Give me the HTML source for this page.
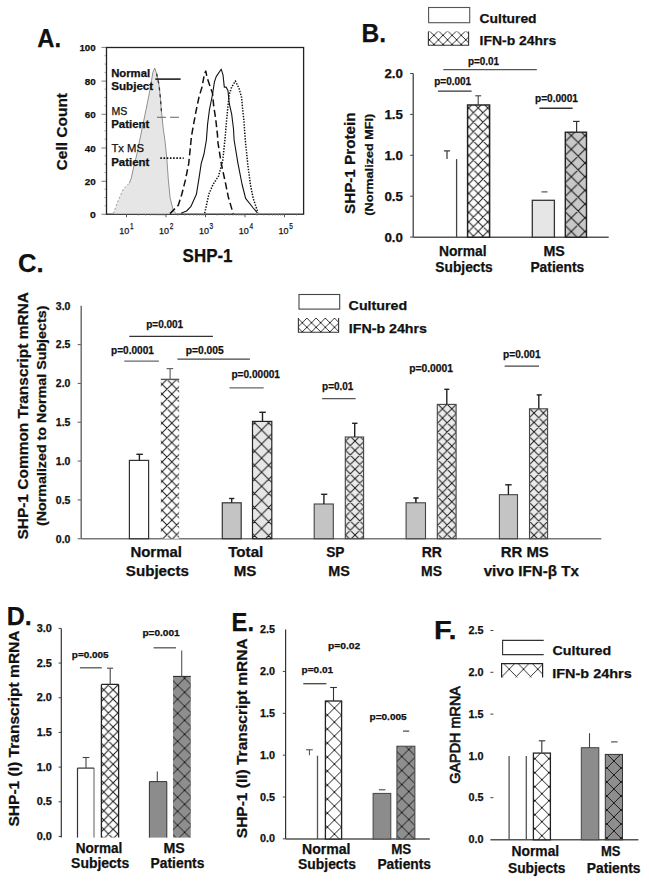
<!DOCTYPE html>
<html><head><meta charset="utf-8"><title>Figure</title>
<style>
html,body{margin:0;padding:0;background:#fff;}
svg{display:block;font-family:"Liberation Sans", sans-serif;}
</style></head><body>
<svg width="649" height="885" viewBox="0 0 649 885">
<defs>
<pattern id="h1" patternUnits="userSpaceOnUse" x="433.9" y="35.3" width="9.1" height="9.1"><rect width="9.1" height="9.1" fill="#fff"/><path d="M-18.2,-9.1L9.1,18.2M0,-9.1L-27.3,18.2M-9.1,-9.1L18.2,18.2M9.1,-9.1L-18.2,18.2M0,-9.1L27.3,18.2M18.2,-9.1L-9.1,18.2M9.1,-9.1L36.4,18.2M27.3,-9.1L0,18.2" stroke="#1a1a1a" stroke-width="0.9" fill="none"/></pattern>
<pattern id="h2" patternUnits="userSpaceOnUse" x="468.7" y="107.9" width="9.5" height="9.5"><rect width="9.5" height="9.5" fill="#fff"/><path d="M-19,-9.5L9.5,19M0,-9.5L-28.5,19M-9.5,-9.5L19,19M9.5,-9.5L-19,19M0,-9.5L28.5,19M19,-9.5L-9.5,19M9.5,-9.5L38,19M28.5,-9.5L0,19" stroke="#1a1a1a" stroke-width="1" fill="none"/></pattern>
<pattern id="h3" patternUnits="userSpaceOnUse" x="571.3" y="135.6" width="13.7" height="13.7"><rect width="13.7" height="13.7" fill="#c8c8c8"/><path d="M-27.4,-13.7L13.7,27.4M0,-13.7L-41.1,27.4M-13.7,-13.7L27.4,27.4M13.7,-13.7L-27.4,27.4M0,-13.7L41.1,27.4M27.4,-13.7L-13.7,27.4M13.7,-13.7L54.8,27.4M41.1,-13.7L0,27.4" stroke="#1a1a1a" stroke-width="1.1" fill="none"/></pattern>
<pattern id="h4" patternUnits="userSpaceOnUse" x="306.9" y="327.3" width="9.2" height="9.2"><rect width="9.2" height="9.2" fill="#fff"/><path d="M-18.4,-9.2L9.2,18.4M0,-9.2L-27.6,18.4M-9.2,-9.2L18.4,18.4M9.2,-9.2L-18.4,18.4M0,-9.2L27.6,18.4M18.4,-9.2L-9.2,18.4M9.2,-9.2L36.8,18.4M27.6,-9.2L0,18.4" stroke="#1a1a1a" stroke-width="0.9" fill="none"/></pattern>
<pattern id="h5" patternUnits="userSpaceOnUse" x="162.1" y="384.3" width="9.7" height="9.7"><rect width="9.7" height="9.7" fill="#fff"/><path d="M-19.4,-9.7L9.7,19.4M0,-9.7L-29.1,19.4M-9.7,-9.7L19.4,19.4M9.7,-9.7L-19.4,19.4M0,-9.7L29.1,19.4M19.4,-9.7L-9.7,19.4M9.7,-9.7L38.8,19.4M29.1,-9.7L0,19.4" stroke="#1a1a1a" stroke-width="1" fill="none"/></pattern>
<pattern id="h6" patternUnits="userSpaceOnUse" x="261.6" y="429.9" width="14.1" height="14.1"><rect width="14.1" height="14.1" fill="#e6e6e6"/><path d="M-28.2,-14.1L14.1,28.2M0,-14.1L-42.3,28.2M-14.1,-14.1L28.2,28.2M14.1,-14.1L-28.2,28.2M0,-14.1L42.3,28.2M28.2,-14.1L-14.1,28.2M14.1,-14.1L56.4,28.2M42.3,-14.1L0,28.2" stroke="#1a1a1a" stroke-width="1" fill="none"/></pattern>
<pattern id="h7" patternUnits="userSpaceOnUse" x="355" y="441" width="9.4" height="9.4"><rect width="9.4" height="9.4" fill="#ebebeb"/><path d="M-18.8,-9.4L9.4,18.8M0,-9.4L-28.2,18.8M-9.4,-9.4L18.8,18.8M9.4,-9.4L-18.8,18.8M0,-9.4L28.2,18.8M18.8,-9.4L-9.4,18.8M9.4,-9.4L37.6,18.8M28.2,-9.4L0,18.8" stroke="#1a1a1a" stroke-width="1" fill="none"/></pattern>
<pattern id="h8" patternUnits="userSpaceOnUse" x="442.5" y="408.8" width="9.3" height="9.3"><rect width="9.3" height="9.3" fill="#ebebeb"/><path d="M-18.6,-9.3L9.3,18.6M0,-9.3L-27.9,18.6M-9.3,-9.3L18.6,18.6M9.3,-9.3L-18.6,18.6M0,-9.3L27.9,18.6M18.6,-9.3L-9.3,18.6M9.3,-9.3L37.2,18.6M27.9,-9.3L0,18.6" stroke="#1a1a1a" stroke-width="1" fill="none"/></pattern>
<pattern id="h9" patternUnits="userSpaceOnUse" x="534" y="413" width="9.4" height="9.4"><rect width="9.4" height="9.4" fill="#ebebeb"/><path d="M-18.8,-9.4L9.4,18.8M0,-9.4L-28.2,18.8M-9.4,-9.4L18.8,18.8M9.4,-9.4L-18.8,18.8M0,-9.4L28.2,18.8M18.8,-9.4L-9.4,18.8M9.4,-9.4L37.6,18.8M28.2,-9.4L0,18.8" stroke="#1a1a1a" stroke-width="1" fill="none"/></pattern>
<pattern id="h10" patternUnits="userSpaceOnUse" x="103.8" y="689.8" width="9.3" height="9.3"><rect width="9.3" height="9.3" fill="#fff"/><path d="M-18.6,-9.3L9.3,18.6M0,-9.3L-27.9,18.6M-9.3,-9.3L18.6,18.6M9.3,-9.3L-18.6,18.6M0,-9.3L27.9,18.6M18.6,-9.3L-9.3,18.6M9.3,-9.3L37.2,18.6M27.9,-9.3L0,18.6" stroke="#1a1a1a" stroke-width="1" fill="none"/></pattern>
<pattern id="h11" patternUnits="userSpaceOnUse" x="177.6" y="685.3" width="14" height="14"><rect width="14" height="14" fill="#8e8e8e"/><path d="M-28,-14L14,28M0,-14L-42,28M-14,-14L28,28M14,-14L-28,28M0,-14L42,28M28,-14L-14,28M14,-14L56,28M42,-14L0,28" stroke="#1a1a1a" stroke-width="1" fill="none"/></pattern>
<pattern id="h12" patternUnits="userSpaceOnUse" x="334.4" y="708.1" width="14" height="14"><rect width="14" height="14" fill="#fff"/><path d="M-28,-14L14,28M0,-14L-42,28M-14,-14L28,28M14,-14L-28,28M0,-14L42,28M28,-14L-14,28M14,-14L56,28M42,-14L0,28" stroke="#1a1a1a" stroke-width="1" fill="none"/></pattern>
<pattern id="h13" patternUnits="userSpaceOnUse" x="401.8" y="770.5" width="14" height="14"><rect width="14" height="14" fill="#8e8e8e"/><path d="M-28,-14L14,28M0,-14L-42,28M-14,-14L28,28M14,-14L-28,28M0,-14L42,28M28,-14L-14,28M14,-14L56,28M42,-14L0,28" stroke="#1a1a1a" stroke-width="1" fill="none"/></pattern>
<pattern id="h14" patternUnits="userSpaceOnUse" x="509.2" y="669.2" width="14.3" height="14.7"><rect width="14.3" height="14.7" fill="#fff"/><path d="M-28.6,-14.7L14.3,29.4M0,-14.7L-42.9,29.4M-14.3,-14.7L28.6,29.4M14.3,-14.7L-28.6,29.4M0,-14.7L42.9,29.4M28.6,-14.7L-14.3,29.4M14.3,-14.7L57.2,29.4M42.9,-14.7L0,29.4" stroke="#1a1a1a" stroke-width="0.9" fill="none"/></pattern>
<pattern id="h15" patternUnits="userSpaceOnUse" x="541.9" y="765.7" width="14" height="14"><rect width="14" height="14" fill="#fff"/><path d="M-28,-14L14,28M0,-14L-42,28M-14,-14L28,28M14,-14L-28,28M0,-14L42,28M28,-14L-14,28M14,-14L56,28M42,-14L0,28" stroke="#1a1a1a" stroke-width="1" fill="none"/></pattern>
<pattern id="h16" patternUnits="userSpaceOnUse" x="613.9" y="761" width="14" height="14"><rect width="14" height="14" fill="#8e8e8e"/><path d="M-28,-14L14,28M0,-14L-42,28M-14,-14L28,28M14,-14L-28,28M0,-14L42,28M28,-14L-14,28M14,-14L56,28M42,-14L0,28" stroke="#1a1a1a" stroke-width="1" fill="none"/></pattern>
</defs>
<rect width="649" height="885" fill="#fff"/>
<text x="37.2" y="46.5" font-size="25" font-weight="bold" text-anchor="start" fill="#111" stroke="#111" stroke-width="0.25" textLength="23.8" lengthAdjust="spacingAndGlyphs">A.</text>
<text x="95.7" y="51.1" font-size="9.4" font-weight="bold" text-anchor="end" fill="#111" stroke="#111" stroke-width="0.25" textLength="16.3" lengthAdjust="spacingAndGlyphs">100</text>
<line x1="101.5" y1="47.4" x2="106.5" y2="47.4" stroke="#888" stroke-width="1.1"/>
<text x="95.7" y="84.8" font-size="9.4" font-weight="bold" text-anchor="end" fill="#111" stroke="#111" stroke-width="0.25" textLength="11" lengthAdjust="spacingAndGlyphs">80</text>
<line x1="101.5" y1="81.1" x2="106.5" y2="81.1" stroke="#888" stroke-width="1.1"/>
<text x="95.7" y="118" font-size="9.4" font-weight="bold" text-anchor="end" fill="#111" stroke="#111" stroke-width="0.25" textLength="11" lengthAdjust="spacingAndGlyphs">60</text>
<line x1="101.5" y1="114.3" x2="106.5" y2="114.3" stroke="#888" stroke-width="1.1"/>
<text x="95.7" y="151.7" font-size="9.4" font-weight="bold" text-anchor="end" fill="#111" stroke="#111" stroke-width="0.25" textLength="11" lengthAdjust="spacingAndGlyphs">40</text>
<line x1="101.5" y1="148" x2="106.5" y2="148" stroke="#888" stroke-width="1.1"/>
<text x="95.7" y="185" font-size="9.4" font-weight="bold" text-anchor="end" fill="#111" stroke="#111" stroke-width="0.25" textLength="11" lengthAdjust="spacingAndGlyphs">20</text>
<line x1="101.5" y1="181.3" x2="106.5" y2="181.3" stroke="#888" stroke-width="1.1"/>
<text x="95.7" y="218" font-size="9.4" font-weight="bold" text-anchor="end" fill="#111" stroke="#111" stroke-width="0.25" textLength="5.8" lengthAdjust="spacingAndGlyphs">0</text>
<line x1="101.5" y1="214.3" x2="106.5" y2="214.3" stroke="#888" stroke-width="1.1"/>
<line x1="104.4" y1="55.74" x2="106.5" y2="55.74" stroke="#999" stroke-width="0.8"/>
<line x1="104.4" y1="64.08" x2="106.5" y2="64.08" stroke="#999" stroke-width="0.8"/>
<line x1="104.4" y1="72.42" x2="106.5" y2="72.42" stroke="#999" stroke-width="0.8"/>
<line x1="104.4" y1="89.1" x2="106.5" y2="89.1" stroke="#999" stroke-width="0.8"/>
<line x1="104.4" y1="97.44" x2="106.5" y2="97.44" stroke="#999" stroke-width="0.8"/>
<line x1="104.4" y1="105.78" x2="106.5" y2="105.78" stroke="#999" stroke-width="0.8"/>
<line x1="104.4" y1="122.46" x2="106.5" y2="122.46" stroke="#999" stroke-width="0.8"/>
<line x1="104.4" y1="130.8" x2="106.5" y2="130.8" stroke="#999" stroke-width="0.8"/>
<line x1="104.4" y1="139.14" x2="106.5" y2="139.14" stroke="#999" stroke-width="0.8"/>
<line x1="104.4" y1="155.82" x2="106.5" y2="155.82" stroke="#999" stroke-width="0.8"/>
<line x1="104.4" y1="164.16" x2="106.5" y2="164.16" stroke="#999" stroke-width="0.8"/>
<line x1="104.4" y1="172.5" x2="106.5" y2="172.5" stroke="#999" stroke-width="0.8"/>
<line x1="104.4" y1="189.18" x2="106.5" y2="189.18" stroke="#999" stroke-width="0.8"/>
<line x1="104.4" y1="197.52" x2="106.5" y2="197.52" stroke="#999" stroke-width="0.8"/>
<line x1="104.4" y1="205.86" x2="106.5" y2="205.86" stroke="#999" stroke-width="0.8"/>
<text transform="translate(67.1,170.4) rotate(-90)" x="0" y="0" font-size="15.5" font-weight="bold" fill="#111" stroke="#111" stroke-width="0.25" textLength="77.4" lengthAdjust="spacingAndGlyphs">Cell Count</text>
<rect x="106.5" y="47.5" width="197.1" height="166.7" fill="none" stroke="#222" stroke-width="1.3"/>
<line x1="126.5" y1="214.2" x2="126.5" y2="217.2" stroke="#555" stroke-width="1"/>
<text x="119.3" y="233.9" font-size="9.8" font-weight="normal" text-anchor="start" fill="#111" stroke="#111" stroke-width="0.25" textLength="10" lengthAdjust="spacingAndGlyphs">10</text>
<text x="130" y="229.3" font-size="9" font-weight="normal" text-anchor="start" fill="#111" stroke="#111" stroke-width="0.25" textLength="3.6" lengthAdjust="spacingAndGlyphs">1</text>
<line x1="138.39" y1="214.2" x2="138.39" y2="215.8" stroke="#888" stroke-width="0.7"/>
<line x1="145.35" y1="214.2" x2="145.35" y2="215.8" stroke="#888" stroke-width="0.7"/>
<line x1="150.28" y1="214.2" x2="150.28" y2="215.8" stroke="#888" stroke-width="0.7"/>
<line x1="154.11" y1="214.2" x2="154.11" y2="215.8" stroke="#888" stroke-width="0.7"/>
<line x1="157.24" y1="214.2" x2="157.24" y2="215.8" stroke="#888" stroke-width="0.7"/>
<line x1="159.88" y1="214.2" x2="159.88" y2="215.8" stroke="#888" stroke-width="0.7"/>
<line x1="162.17" y1="214.2" x2="162.17" y2="215.8" stroke="#888" stroke-width="0.7"/>
<line x1="164.19" y1="214.2" x2="164.19" y2="215.8" stroke="#888" stroke-width="0.7"/>
<line x1="166" y1="214.2" x2="166" y2="217.2" stroke="#555" stroke-width="1"/>
<text x="159.1" y="233.9" font-size="9.8" font-weight="normal" text-anchor="start" fill="#111" stroke="#111" stroke-width="0.25" textLength="10" lengthAdjust="spacingAndGlyphs">10</text>
<text x="169.8" y="229.3" font-size="9" font-weight="normal" text-anchor="start" fill="#111" stroke="#111" stroke-width="0.25" textLength="3.6" lengthAdjust="spacingAndGlyphs">2</text>
<line x1="177.89" y1="214.2" x2="177.89" y2="215.8" stroke="#888" stroke-width="0.7"/>
<line x1="184.85" y1="214.2" x2="184.85" y2="215.8" stroke="#888" stroke-width="0.7"/>
<line x1="189.78" y1="214.2" x2="189.78" y2="215.8" stroke="#888" stroke-width="0.7"/>
<line x1="193.61" y1="214.2" x2="193.61" y2="215.8" stroke="#888" stroke-width="0.7"/>
<line x1="196.74" y1="214.2" x2="196.74" y2="215.8" stroke="#888" stroke-width="0.7"/>
<line x1="199.38" y1="214.2" x2="199.38" y2="215.8" stroke="#888" stroke-width="0.7"/>
<line x1="201.67" y1="214.2" x2="201.67" y2="215.8" stroke="#888" stroke-width="0.7"/>
<line x1="203.69" y1="214.2" x2="203.69" y2="215.8" stroke="#888" stroke-width="0.7"/>
<line x1="205.5" y1="214.2" x2="205.5" y2="217.2" stroke="#555" stroke-width="1"/>
<text x="198.9" y="233.9" font-size="9.8" font-weight="normal" text-anchor="start" fill="#111" stroke="#111" stroke-width="0.25" textLength="10" lengthAdjust="spacingAndGlyphs">10</text>
<text x="209.6" y="229.3" font-size="9" font-weight="normal" text-anchor="start" fill="#111" stroke="#111" stroke-width="0.25" textLength="3.6" lengthAdjust="spacingAndGlyphs">3</text>
<line x1="217.39" y1="214.2" x2="217.39" y2="215.8" stroke="#888" stroke-width="0.7"/>
<line x1="224.35" y1="214.2" x2="224.35" y2="215.8" stroke="#888" stroke-width="0.7"/>
<line x1="229.28" y1="214.2" x2="229.28" y2="215.8" stroke="#888" stroke-width="0.7"/>
<line x1="233.11" y1="214.2" x2="233.11" y2="215.8" stroke="#888" stroke-width="0.7"/>
<line x1="236.24" y1="214.2" x2="236.24" y2="215.8" stroke="#888" stroke-width="0.7"/>
<line x1="238.88" y1="214.2" x2="238.88" y2="215.8" stroke="#888" stroke-width="0.7"/>
<line x1="241.17" y1="214.2" x2="241.17" y2="215.8" stroke="#888" stroke-width="0.7"/>
<line x1="243.19" y1="214.2" x2="243.19" y2="215.8" stroke="#888" stroke-width="0.7"/>
<line x1="245" y1="214.2" x2="245" y2="217.2" stroke="#555" stroke-width="1"/>
<text x="238.7" y="233.9" font-size="9.8" font-weight="normal" text-anchor="start" fill="#111" stroke="#111" stroke-width="0.25" textLength="10" lengthAdjust="spacingAndGlyphs">10</text>
<text x="249.4" y="229.3" font-size="9" font-weight="normal" text-anchor="start" fill="#111" stroke="#111" stroke-width="0.25" textLength="3.6" lengthAdjust="spacingAndGlyphs">4</text>
<line x1="256.89" y1="214.2" x2="256.89" y2="215.8" stroke="#888" stroke-width="0.7"/>
<line x1="263.85" y1="214.2" x2="263.85" y2="215.8" stroke="#888" stroke-width="0.7"/>
<line x1="268.78" y1="214.2" x2="268.78" y2="215.8" stroke="#888" stroke-width="0.7"/>
<line x1="272.61" y1="214.2" x2="272.61" y2="215.8" stroke="#888" stroke-width="0.7"/>
<line x1="275.74" y1="214.2" x2="275.74" y2="215.8" stroke="#888" stroke-width="0.7"/>
<line x1="278.38" y1="214.2" x2="278.38" y2="215.8" stroke="#888" stroke-width="0.7"/>
<line x1="280.67" y1="214.2" x2="280.67" y2="215.8" stroke="#888" stroke-width="0.7"/>
<line x1="282.69" y1="214.2" x2="282.69" y2="215.8" stroke="#888" stroke-width="0.7"/>
<line x1="284.5" y1="214.2" x2="284.5" y2="217.2" stroke="#555" stroke-width="1"/>
<text x="278.5" y="233.9" font-size="9.8" font-weight="normal" text-anchor="start" fill="#111" stroke="#111" stroke-width="0.25" textLength="10" lengthAdjust="spacingAndGlyphs">10</text>
<text x="289.2" y="229.3" font-size="9" font-weight="normal" text-anchor="start" fill="#111" stroke="#111" stroke-width="0.25" textLength="3.6" lengthAdjust="spacingAndGlyphs">5</text>
<line x1="296.39" y1="214.2" x2="296.39" y2="215.8" stroke="#888" stroke-width="0.7"/>
<text x="182.6" y="261.5" font-size="17.6" font-weight="bold" text-anchor="start" fill="#111" stroke="#111" stroke-width="0.25" textLength="49.9" lengthAdjust="spacingAndGlyphs">SHP-1</text>
<path d="M113.4,213.5 L118.3,200.3 L123.3,189.2 L129.4,183 L131.3,178.1 L133.7,167 L136.8,154.7 L139.3,142.3 L141.8,130 L146.1,109.3 L149.8,90.8 L152.9,72.3 L154.7,68 L154.7,68 L156.6,73.6 L159,84.7 L160.3,97 L161.5,111.8 L163.3,129 L165.2,142.3 L167,160.8 L168.3,179.3 L170.1,197.8 L173.2,210.1 L175,212.6 L176,213.5 Z" fill="#e6e6e6" stroke="none"/>
<polyline points="129.4,183 131.3,178.1 133.7,167 136.8,154.7 139.3,142.3 141.8,130 146.1,109.3 149.8,90.8 152.9,72.3 154.7,68 154.7,68 156.6,73.6 159,84.7 160.3,97 161.5,111.8 163.3,129 165.2,142.3 167,160.8 168.3,179.3 170.1,197.8 173.2,210.1 175,212.6 176,213.5" fill="none" stroke="#777" stroke-width="0.8" stroke-linejoin="round"/>
<polyline points="113.4,213.5 118.3,200.3 123.3,189.2 129.4,183" fill="none" stroke="#999" stroke-width="1" stroke-dasharray="2,2" stroke-linejoin="round"/>
<polyline points="156.6,73.6 159,84.7 160.3,97 161.5,111.8" fill="none" stroke="#333" stroke-width="1.3" stroke-dasharray="3,4" stroke-linejoin="round"/>
<polyline points="170,213.6 178.3,205.3 181.8,194.3 185.3,180.4 188.7,163.7 191.5,136 193.4,125.4 195.9,111.8 199,97 202,87.1 204.5,73.6 205.8,71.1 207,77.3 209.5,84.7 212.5,93.3 213.8,106.9 215.6,118 217.5,135.2 217.8,141.5 221.3,163.7 225.5,183.2 228.3,197 232.4,211 233,213.6" fill="none" stroke="#111" stroke-width="1.5" stroke-dasharray="7,3.5" stroke-linejoin="round"/>
<polyline points="181,213.2 186.6,211 190.8,206.7 196.4,194.3 199.1,177.6 201.2,163.7 204,154 206.4,140 207.6,124.1 209.5,109.3 212.5,94.5 214.4,82.2 216.2,76.6 221.2,69.2 223,74.8 224.3,87.1 226.1,87.1 228,90.8 229.2,103.2 231.7,114.3 233.5,129 234.1,140 238,163.7 242.1,184.5 245.6,198.4 253.2,208 257.4,212.8" fill="none" stroke="#111" stroke-width="1.1" stroke-linejoin="round"/>
<polyline points="204.7,213.2 208.8,194.3 213,184.5 218.5,176.2 222.7,161 224.9,140 226.7,119.2 228,105.6 229.2,94.5 231.7,87.1 235.4,81 239,88.4 241.5,97 242.7,109.3 244,121.7 245.2,139 247.7,163.7 250.4,184.5 253.2,198.4 258,212.8" fill="none" stroke="#111" stroke-width="1.5" stroke-dasharray="1.4,1.4" stroke-linejoin="round"/>
<text x="111.2" y="77.3" font-size="10.2" font-weight="bold" text-anchor="start" fill="#111" stroke="#111" stroke-width="0.25" textLength="38.9" lengthAdjust="spacingAndGlyphs">Normal</text>
<text x="111.2" y="90.2" font-size="10.2" font-weight="bold" text-anchor="start" fill="#111" stroke="#111" stroke-width="0.25" textLength="42" lengthAdjust="spacingAndGlyphs">Subject</text>
<text x="111.6" y="115.4" font-size="10.6" font-weight="normal" text-anchor="start" fill="#111" stroke="#111" stroke-width="0.25" textLength="15.8" lengthAdjust="spacingAndGlyphs">MS</text>
<text x="111.2" y="128.4" font-size="10.2" font-weight="bold" text-anchor="start" fill="#111" stroke="#111" stroke-width="0.25" textLength="38.2" lengthAdjust="spacingAndGlyphs">Patient</text>
<text x="111.4" y="152.2" font-size="10.6" font-weight="normal" text-anchor="start" fill="#111" stroke="#111" stroke-width="0.25" textLength="32.6" lengthAdjust="spacingAndGlyphs">Tx MS</text>
<text x="111.2" y="165.5" font-size="10.2" font-weight="bold" text-anchor="start" fill="#111" stroke="#111" stroke-width="0.25" textLength="38.2" lengthAdjust="spacingAndGlyphs">Patient</text>
<line x1="155.3" y1="79.1" x2="180.6" y2="79.1" stroke="#111" stroke-width="1.5"/>
<line x1="157" y1="117.3" x2="179" y2="117.3" stroke="#666" stroke-width="1.1" stroke-dasharray="9,4"/>
<line x1="160.3" y1="158.1" x2="183.7" y2="158.1" stroke="#111" stroke-width="1.8" stroke-dasharray="1.6,1.6"/>
<text x="361.5" y="42" font-size="25" font-weight="bold" text-anchor="start" fill="#111" stroke="#111" stroke-width="0.25" textLength="24.6" lengthAdjust="spacingAndGlyphs">B.</text>
<rect x="428.6" y="7.5" width="41.1" height="15.2" fill="#fff" stroke="#555" stroke-width="1.1"/>
<rect x="428.4" y="31.4" width="40.2" height="13.9" fill="url(#h1)"/>
<path d="M428.4,31.4 V45.3 H468.6 V31.4" fill="none" stroke="#333" stroke-width="1.1"/>
<text x="479.6" y="22.8" font-size="13.5" font-weight="bold" text-anchor="start" fill="#111" stroke="#111" stroke-width="0.25" textLength="57" lengthAdjust="spacingAndGlyphs">Cultured</text>
<text x="479.6" y="44.7" font-size="13.5" font-weight="bold" text-anchor="start" fill="#111" stroke="#111" stroke-width="0.25" textLength="76.7" lengthAdjust="spacingAndGlyphs">IFN-b 24hrs</text>
<line x1="413.2" y1="73.5" x2="413.2" y2="237.2" stroke="#333" stroke-width="1.2"/>
<line x1="413.2" y1="237.2" x2="608.7" y2="237.2" stroke="#555" stroke-width="1.4"/>
<line x1="410.1" y1="73.5" x2="413.2" y2="73.5" stroke="#444" stroke-width="1"/>
<text x="402.9" y="78" font-size="12" font-weight="bold" text-anchor="end" fill="#111" stroke="#111" stroke-width="0.25" textLength="18.5" lengthAdjust="spacingAndGlyphs">2.0</text>
<line x1="410.1" y1="114.4" x2="413.2" y2="114.4" stroke="#444" stroke-width="1"/>
<text x="402.9" y="118.9" font-size="12" font-weight="bold" text-anchor="end" fill="#111" stroke="#111" stroke-width="0.25" textLength="18.5" lengthAdjust="spacingAndGlyphs">1.5</text>
<line x1="410.1" y1="155.3" x2="413.2" y2="155.3" stroke="#444" stroke-width="1"/>
<text x="402.9" y="159.8" font-size="12" font-weight="bold" text-anchor="end" fill="#111" stroke="#111" stroke-width="0.25" textLength="18.5" lengthAdjust="spacingAndGlyphs">1.0</text>
<line x1="410.1" y1="196.2" x2="413.2" y2="196.2" stroke="#444" stroke-width="1"/>
<text x="402.9" y="200.7" font-size="12" font-weight="bold" text-anchor="end" fill="#111" stroke="#111" stroke-width="0.25" textLength="18.5" lengthAdjust="spacingAndGlyphs">0.5</text>
<line x1="410.1" y1="237.1" x2="413.2" y2="237.1" stroke="#444" stroke-width="1"/>
<text x="402.9" y="241.6" font-size="12" font-weight="bold" text-anchor="end" fill="#111" stroke="#111" stroke-width="0.25" textLength="18.5" lengthAdjust="spacingAndGlyphs">0.0</text>
<text transform="translate(355.2,214) rotate(-90)" x="0" y="0" font-size="15.2" font-weight="bold" fill="#111" stroke="#111" stroke-width="0.25" textLength="101.5" lengthAdjust="spacingAndGlyphs">SHP-1 Protein</text>
<text transform="translate(373.3,215.7) rotate(-90)" x="0" y="0" font-size="11.2" font-weight="bold" fill="#111" stroke="#111" stroke-width="0.25" textLength="102" lengthAdjust="spacingAndGlyphs">(Normalized MFI)</text>
<line x1="456.6" y1="159.1" x2="456.6" y2="237.2" stroke="#444" stroke-width="1.3"/>
<line x1="443.9" y1="150.9" x2="450.1" y2="150.9" stroke="#333" stroke-width="1.2"/>
<line x1="447" y1="150.9" x2="447" y2="159.1" stroke="#333" stroke-width="1.2"/>
<rect x="467.6" y="105" width="22" height="132.2" fill="url(#h2)" stroke="#222" stroke-width="1.5"/>
<line x1="478.2" y1="95.8" x2="478.2" y2="105" stroke="#444" stroke-width="1.1"/>
<line x1="475.2" y1="95.8" x2="481.2" y2="95.8" stroke="#444" stroke-width="1.1"/>
<rect x="532.3" y="200.3" width="22.1" height="36.9" fill="#e6e6e6" stroke="#333" stroke-width="1.3"/>
<line x1="541.5" y1="191.9" x2="547.5" y2="191.9" stroke="#444" stroke-width="1.1"/>
<rect x="565.3" y="132.2" width="21.2" height="105" fill="url(#h3)" stroke="#222" stroke-width="1.4"/>
<line x1="576.6" y1="121.4" x2="576.6" y2="132.2" stroke="#333" stroke-width="1.2"/>
<line x1="573" y1="121.4" x2="579.7" y2="121.4" stroke="#333" stroke-width="1.2"/>
<text x="467.9" y="64.7" font-size="10.3" font-weight="bold" text-anchor="start" fill="#111" stroke="#111" stroke-width="0.25" textLength="31.1" lengthAdjust="spacingAndGlyphs">p=0.01</text>
<line x1="443.3" y1="69.6" x2="536.8" y2="69.6" stroke="#555" stroke-width="1.4"/>
<text x="434.2" y="84.5" font-size="10.3" font-weight="bold" text-anchor="start" fill="#111" stroke="#111" stroke-width="0.25" textLength="37" lengthAdjust="spacingAndGlyphs">p=0.001</text>
<line x1="437.9" y1="91.1" x2="471.6" y2="91.1" stroke="#333" stroke-width="1.4"/>
<text x="535" y="101.8" font-size="10.3" font-weight="bold" text-anchor="start" fill="#111" stroke="#111" stroke-width="0.25" textLength="43" lengthAdjust="spacingAndGlyphs">p=0.0001</text>
<line x1="539.4" y1="108.2" x2="572.6" y2="108.2" stroke="#333" stroke-width="1.4"/>
<text x="438.9" y="255.8" font-size="14.2" font-weight="bold" text-anchor="start" fill="#111" stroke="#111" stroke-width="0.25" textLength="47.7" lengthAdjust="spacingAndGlyphs">Normal</text>
<text x="435.3" y="271.6" font-size="14.2" font-weight="bold" text-anchor="start" fill="#111" stroke="#111" stroke-width="0.25" textLength="57.4" lengthAdjust="spacingAndGlyphs">Subjects</text>
<text x="543.4" y="255.8" font-size="14.2" font-weight="bold" text-anchor="start" fill="#111" stroke="#111" stroke-width="0.25" textLength="21.4" lengthAdjust="spacingAndGlyphs">MS</text>
<text x="530.4" y="271.6" font-size="14.2" font-weight="bold" text-anchor="start" fill="#111" stroke="#111" stroke-width="0.25" textLength="53.8" lengthAdjust="spacingAndGlyphs">Patients</text>
<text x="18" y="271.8" font-size="25" font-weight="bold" text-anchor="start" fill="#111" stroke="#111" stroke-width="0.25" textLength="25.6" lengthAdjust="spacingAndGlyphs">C.</text>
<text transform="translate(27.8,539.6) rotate(-90)" x="0" y="0" font-size="15.2" font-weight="bold" fill="#111" stroke="#111" stroke-width="0.25" textLength="247.6" lengthAdjust="spacingAndGlyphs">SHP-1 Common Transcript mRNA</text>
<text transform="translate(45.8,526) rotate(-90)" x="0" y="0" font-size="13" font-weight="bold" fill="#111" stroke="#111" stroke-width="0.25" textLength="220.4" lengthAdjust="spacingAndGlyphs">(Normalized to Normal Subjects)</text>
<line x1="81.2" y1="305.8" x2="81.2" y2="538.7" stroke="#666" stroke-width="1.4"/>
<line x1="81.2" y1="538.7" x2="601.3" y2="538.7" stroke="#777" stroke-width="1.6"/>
<text x="70.4" y="309.6" font-size="10.4" font-weight="bold" text-anchor="end" fill="#111" stroke="#111" stroke-width="0.25" textLength="14.6" lengthAdjust="spacingAndGlyphs">3.0</text>
<line x1="77.7" y1="344.62" x2="81.2" y2="344.62" stroke="#666" stroke-width="1.1"/>
<text x="70.4" y="348.42" font-size="10.4" font-weight="bold" text-anchor="end" fill="#111" stroke="#111" stroke-width="0.25" textLength="14.6" lengthAdjust="spacingAndGlyphs">2.5</text>
<line x1="77.7" y1="383.44" x2="81.2" y2="383.44" stroke="#666" stroke-width="1.1"/>
<text x="70.4" y="387.24" font-size="10.4" font-weight="bold" text-anchor="end" fill="#111" stroke="#111" stroke-width="0.25" textLength="14.6" lengthAdjust="spacingAndGlyphs">2.0</text>
<line x1="77.7" y1="422.26" x2="81.2" y2="422.26" stroke="#666" stroke-width="1.1"/>
<text x="70.4" y="426.06" font-size="10.4" font-weight="bold" text-anchor="end" fill="#111" stroke="#111" stroke-width="0.25" textLength="14.6" lengthAdjust="spacingAndGlyphs">1.5</text>
<line x1="77.7" y1="461.08" x2="81.2" y2="461.08" stroke="#666" stroke-width="1.1"/>
<text x="70.4" y="464.88" font-size="10.4" font-weight="bold" text-anchor="end" fill="#111" stroke="#111" stroke-width="0.25" textLength="14.6" lengthAdjust="spacingAndGlyphs">1.0</text>
<line x1="77.7" y1="499.9" x2="81.2" y2="499.9" stroke="#666" stroke-width="1.1"/>
<text x="70.4" y="503.7" font-size="10.4" font-weight="bold" text-anchor="end" fill="#111" stroke="#111" stroke-width="0.25" textLength="14.6" lengthAdjust="spacingAndGlyphs">0.5</text>
<line x1="77.7" y1="538.72" x2="81.2" y2="538.72" stroke="#666" stroke-width="1.1"/>
<text x="70.4" y="542.52" font-size="10.4" font-weight="bold" text-anchor="end" fill="#111" stroke="#111" stroke-width="0.25" textLength="14.6" lengthAdjust="spacingAndGlyphs">0.0</text>
<rect x="299" y="294.5" width="40.7" height="14.6" fill="#fff" stroke="#444" stroke-width="1.1"/>
<rect x="298.4" y="318.1" width="40.2" height="14.2" fill="url(#h4)"/>
<path d="M298.4,318.1 V332.3 H338.6 V318.1" fill="none" stroke="#333" stroke-width="1.1"/>
<text x="348.6" y="310.2" font-size="13.7" font-weight="bold" text-anchor="start" fill="#111" stroke="#111" stroke-width="0.25" textLength="58.6" lengthAdjust="spacingAndGlyphs">Cultured</text>
<text x="348.8" y="332.5" font-size="13.7" font-weight="bold" text-anchor="start" fill="#111" stroke="#111" stroke-width="0.25" textLength="78.2" lengthAdjust="spacingAndGlyphs">IFN-b 24hrs</text>
<rect x="129.4" y="460.4" width="19.2" height="78.3" fill="#fff" stroke="#333" stroke-width="1.2"/>
<line x1="139.4" y1="454.3" x2="139.4" y2="460.4" stroke="#222" stroke-width="1.4"/>
<line x1="136.4" y1="454.3" x2="142.9" y2="454.3" stroke="#222" stroke-width="1.4"/>
<rect x="160.8" y="379.4" width="18.4" height="159.3" fill="url(#h5)" stroke="none" stroke-width="0"/>
<line x1="160.8" y1="379.4" x2="179.2" y2="379.4" stroke="#555" stroke-width="1.4"/>
<line x1="170.1" y1="368.6" x2="170.1" y2="379.4" stroke="#666" stroke-width="1.2"/>
<line x1="166.6" y1="368.6" x2="173.2" y2="368.6" stroke="#666" stroke-width="1.2"/>
<rect x="222.3" y="502.8" width="18.9" height="35.9" fill="#c4c4c4" stroke="#333" stroke-width="1.2"/>
<line x1="231.7" y1="498.5" x2="231.7" y2="502.8" stroke="#222" stroke-width="1.4"/>
<line x1="229.1" y1="498.5" x2="234.3" y2="498.5" stroke="#222" stroke-width="1.4"/>
<rect x="252.5" y="421.4" width="19.3" height="117.3" fill="url(#h6)" stroke="#222" stroke-width="1.2"/>
<line x1="262.5" y1="412.3" x2="262.5" y2="421.4" stroke="#222" stroke-width="1.4"/>
<line x1="259.3" y1="412.3" x2="265.8" y2="412.3" stroke="#222" stroke-width="1.4"/>
<rect x="314.2" y="504" width="19.1" height="34.7" fill="#c4c4c4" stroke="#444" stroke-width="1.1"/>
<line x1="323.9" y1="494.3" x2="323.9" y2="504" stroke="#222" stroke-width="1.4"/>
<line x1="321.1" y1="494.3" x2="327.3" y2="494.3" stroke="#222" stroke-width="1.4"/>
<rect x="345.3" y="437" width="18.3" height="101.7" fill="url(#h7)" stroke="#444" stroke-width="1.1"/>
<line x1="354.7" y1="423.3" x2="354.7" y2="437" stroke="#222" stroke-width="1.4"/>
<line x1="352.1" y1="423.3" x2="357.5" y2="423.3" stroke="#222" stroke-width="1.4"/>
<rect x="406.1" y="502.8" width="19.4" height="35.9" fill="#c4c4c4" stroke="#444" stroke-width="1.1"/>
<line x1="415.9" y1="498" x2="415.9" y2="502.8" stroke="#222" stroke-width="1.6"/>
<line x1="413.4" y1="498" x2="418.6" y2="498" stroke="#222" stroke-width="1.6"/>
<rect x="437.3" y="404.4" width="18.8" height="134.3" fill="url(#h8)" stroke="#444" stroke-width="1.1"/>
<line x1="446.8" y1="389.3" x2="446.8" y2="404.4" stroke="#222" stroke-width="1.4"/>
<line x1="444.3" y1="389.3" x2="449.3" y2="389.3" stroke="#222" stroke-width="1.4"/>
<rect x="499.4" y="494.7" width="18.1" height="44" fill="#c4c4c4" stroke="#444" stroke-width="1.1"/>
<line x1="508.4" y1="484.8" x2="508.4" y2="494.7" stroke="#222" stroke-width="1.4"/>
<line x1="505.2" y1="484.8" x2="511.7" y2="484.8" stroke="#222" stroke-width="1.4"/>
<rect x="529.5" y="408.8" width="18.1" height="129.9" fill="url(#h9)" stroke="#444" stroke-width="1.1"/>
<line x1="538.8" y1="394.9" x2="538.8" y2="408.8" stroke="#222" stroke-width="1.4"/>
<line x1="536.7" y1="394.9" x2="541.8" y2="394.9" stroke="#222" stroke-width="1.4"/>
<text x="146.2" y="328.2" font-size="10.3" font-weight="bold" text-anchor="start" fill="#111" stroke="#111" stroke-width="0.25" textLength="37" lengthAdjust="spacingAndGlyphs">p=0.001</text>
<line x1="129.3" y1="336.3" x2="212.9" y2="336.3" stroke="#333" stroke-width="1.3"/>
<text x="111.1" y="354.2" font-size="10.3" font-weight="bold" text-anchor="start" fill="#111" stroke="#111" stroke-width="0.25" textLength="42.8" lengthAdjust="spacingAndGlyphs">p=0.0001</text>
<line x1="124.3" y1="361.2" x2="158.9" y2="361.2" stroke="#666" stroke-width="1.3"/>
<text x="185.7" y="354" font-size="10.3" font-weight="bold" text-anchor="start" fill="#111" stroke="#111" stroke-width="0.25" textLength="37.9" lengthAdjust="spacingAndGlyphs">p=0.005</text>
<line x1="177.4" y1="359.1" x2="249.9" y2="359.1" stroke="#444" stroke-width="1.3"/>
<text x="231.4" y="378.4" font-size="10.3" font-weight="bold" text-anchor="start" fill="#111" stroke="#111" stroke-width="0.25" textLength="48.6" lengthAdjust="spacingAndGlyphs">p=0.00001</text>
<line x1="229.5" y1="387.9" x2="263.7" y2="387.9" stroke="#666" stroke-width="1.3"/>
<text x="322.1" y="390.3" font-size="10.3" font-weight="bold" text-anchor="start" fill="#111" stroke="#111" stroke-width="0.25" textLength="31.3" lengthAdjust="spacingAndGlyphs">p=0.01</text>
<line x1="322.1" y1="398.6" x2="355.6" y2="398.6" stroke="#555" stroke-width="1.3"/>
<text x="409.2" y="372.1" font-size="10.3" font-weight="bold" text-anchor="start" fill="#111" stroke="#111" stroke-width="0.25" textLength="43.9" lengthAdjust="spacingAndGlyphs">p=0.0001</text>
<text x="503.1" y="358.1" font-size="10.3" font-weight="bold" text-anchor="start" fill="#111" stroke="#111" stroke-width="0.25" textLength="37.5" lengthAdjust="spacingAndGlyphs">p=0.001</text>
<line x1="504.7" y1="366.2" x2="539" y2="366.2" stroke="#444" stroke-width="1.3"/>
<text x="130.4" y="557" font-size="13.8" font-weight="bold" text-anchor="start" fill="#111" stroke="#111" stroke-width="0.25" textLength="51.5" lengthAdjust="spacingAndGlyphs">Normal</text>
<text x="125.8" y="575.5" font-size="13.8" font-weight="bold" text-anchor="start" fill="#111" stroke="#111" stroke-width="0.25" textLength="63.1" lengthAdjust="spacingAndGlyphs">Subjects</text>
<text x="228.2" y="557" font-size="13.8" font-weight="bold" text-anchor="start" fill="#111" stroke="#111" stroke-width="0.25" textLength="35.1" lengthAdjust="spacingAndGlyphs">Total</text>
<text x="233.7" y="575.5" font-size="13.8" font-weight="bold" text-anchor="start" fill="#111" stroke="#111" stroke-width="0.25" textLength="22.7" lengthAdjust="spacingAndGlyphs">MS</text>
<text x="326.2" y="557" font-size="13.8" font-weight="bold" text-anchor="start" fill="#111" stroke="#111" stroke-width="0.25" textLength="18.3" lengthAdjust="spacingAndGlyphs">SP</text>
<text x="328.3" y="575.5" font-size="13.8" font-weight="bold" text-anchor="start" fill="#111" stroke="#111" stroke-width="0.25" textLength="21.6" lengthAdjust="spacingAndGlyphs">MS</text>
<text x="421.7" y="557" font-size="13.8" font-weight="bold" text-anchor="start" fill="#111" stroke="#111" stroke-width="0.25" textLength="20.3" lengthAdjust="spacingAndGlyphs">RR</text>
<text x="421.1" y="575.5" font-size="13.8" font-weight="bold" text-anchor="start" fill="#111" stroke="#111" stroke-width="0.25" textLength="20.9" lengthAdjust="spacingAndGlyphs">MS</text>
<text x="500.7" y="557" font-size="13.8" font-weight="bold" text-anchor="start" fill="#111" stroke="#111" stroke-width="0.25" textLength="48.1" lengthAdjust="spacingAndGlyphs">RR MS</text>
<text x="483.7" y="575.5" font-size="13.8" font-weight="bold" text-anchor="start" fill="#111" stroke="#111" stroke-width="0.25" textLength="95.2" lengthAdjust="spacingAndGlyphs">vivo IFN-&#946; Tx</text>
<text x="6.8" y="624.6" font-size="25.8" font-weight="bold" text-anchor="start" fill="#111" stroke="#111" stroke-width="0.25" textLength="25" lengthAdjust="spacingAndGlyphs">D.</text>
<text transform="translate(19,826.6) rotate(-90)" x="0" y="0" font-size="15.3" font-weight="bold" fill="#111" stroke="#111" stroke-width="0.25" textLength="196.2" lengthAdjust="spacingAndGlyphs">SHP-1 (I) Transcript mRNA</text>
<line x1="61.3" y1="628.4" x2="61.3" y2="837.6" stroke="#333" stroke-width="1.2"/>
<line x1="58.6" y1="628.4" x2="61.3" y2="628.4" stroke="#444" stroke-width="1"/>
<text x="51.9" y="632" font-size="10.4" font-weight="bold" text-anchor="end" fill="#111" stroke="#111" stroke-width="0.25" textLength="15.2" lengthAdjust="spacingAndGlyphs">3.0</text>
<line x1="58.6" y1="663.07" x2="61.3" y2="663.07" stroke="#444" stroke-width="1"/>
<text x="51.9" y="666.67" font-size="10.4" font-weight="bold" text-anchor="end" fill="#111" stroke="#111" stroke-width="0.25" textLength="15.2" lengthAdjust="spacingAndGlyphs">2.5</text>
<line x1="58.6" y1="697.74" x2="61.3" y2="697.74" stroke="#444" stroke-width="1"/>
<text x="51.9" y="701.34" font-size="10.4" font-weight="bold" text-anchor="end" fill="#111" stroke="#111" stroke-width="0.25" textLength="15.2" lengthAdjust="spacingAndGlyphs">2.0</text>
<line x1="58.6" y1="732.41" x2="61.3" y2="732.41" stroke="#444" stroke-width="1"/>
<text x="51.9" y="736.01" font-size="10.4" font-weight="bold" text-anchor="end" fill="#111" stroke="#111" stroke-width="0.25" textLength="15.2" lengthAdjust="spacingAndGlyphs">1.5</text>
<line x1="58.6" y1="767.08" x2="61.3" y2="767.08" stroke="#444" stroke-width="1"/>
<text x="51.9" y="770.68" font-size="10.4" font-weight="bold" text-anchor="end" fill="#111" stroke="#111" stroke-width="0.25" textLength="15.2" lengthAdjust="spacingAndGlyphs">1.0</text>
<line x1="58.6" y1="801.75" x2="61.3" y2="801.75" stroke="#444" stroke-width="1"/>
<text x="51.9" y="805.35" font-size="10.4" font-weight="bold" text-anchor="end" fill="#111" stroke="#111" stroke-width="0.25" textLength="15.2" lengthAdjust="spacingAndGlyphs">0.5</text>
<line x1="58.6" y1="836.42" x2="61.3" y2="836.42" stroke="#444" stroke-width="1"/>
<text x="51.9" y="840.02" font-size="10.4" font-weight="bold" text-anchor="end" fill="#111" stroke="#111" stroke-width="0.25" textLength="15.2" lengthAdjust="spacingAndGlyphs">0.0</text>
<line x1="77.5" y1="768.1" x2="77.5" y2="837.6" stroke="#333" stroke-width="1.2"/>
<line x1="94" y1="768.1" x2="94" y2="837.6" stroke="#777" stroke-width="1.2"/>
<line x1="77.5" y1="768.1" x2="94" y2="768.1" stroke="#333" stroke-width="1.2"/>
<line x1="86" y1="757.5" x2="86" y2="768.1" stroke="#444" stroke-width="1.1"/>
<line x1="82.6" y1="757.5" x2="89.4" y2="757.5" stroke="#444" stroke-width="1.1"/>
<rect x="101.4" y="684.4" width="17.2" height="153.2" fill="url(#h10)"/>
<path d="M101.4,837.6 V684.4 M101.4,684.4 H118.6 M118.6,684.4 V837.6 " fill="none" stroke="#222" stroke-width="1.3"/>
<line x1="110.2" y1="668.2" x2="110.2" y2="684.4" stroke="#444" stroke-width="1.1"/>
<line x1="107" y1="668.2" x2="113.1" y2="668.2" stroke="#444" stroke-width="1.1"/>
<rect x="149.4" y="781.6" width="17.4" height="56" fill="#8c8c8c"/>
<path d="M149.4,837.6 V781.6 M149.4,781.6 H166.8 M166.8,781.6 V837.6 " fill="none" stroke="#333" stroke-width="1"/>
<line x1="157.3" y1="771.6" x2="157.3" y2="781.6" stroke="#444" stroke-width="1.1"/>
<rect x="173" y="676.4" width="17.8" height="161.2" fill="url(#h11)"/>
<path d="M173,676.4 H190.8 " fill="none" stroke="#222" stroke-width="1"/>
<line x1="181.7" y1="650.6" x2="181.7" y2="676.4" stroke="#555" stroke-width="1.1"/>
<text x="71.8" y="657.9" font-size="9" font-weight="bold" text-anchor="start" fill="#111" stroke="#111" stroke-width="0.25" textLength="36.8" lengthAdjust="spacingAndGlyphs">p=0.005</text>
<line x1="79.9" y1="667.8" x2="101.8" y2="667.8" stroke="#555" stroke-width="1.3"/>
<text x="142.4" y="636" font-size="9.2" font-weight="bold" text-anchor="start" fill="#111" stroke="#111" stroke-width="0.25" textLength="37.3" lengthAdjust="spacingAndGlyphs">p=0.001</text>
<line x1="153.6" y1="647.8" x2="176" y2="647.8" stroke="#555" stroke-width="1.3"/>
<text x="75.7" y="853.1" font-size="13.8" font-weight="bold" text-anchor="start" fill="#111" stroke="#111" stroke-width="0.25" textLength="46.7" lengthAdjust="spacingAndGlyphs">Normal</text>
<text x="71.1" y="868.1" font-size="13.8" font-weight="bold" text-anchor="start" fill="#111" stroke="#111" stroke-width="0.25" textLength="58.2" lengthAdjust="spacingAndGlyphs">Subjects</text>
<text x="163.5" y="853.1" font-size="13.8" font-weight="bold" text-anchor="start" fill="#111" stroke="#111" stroke-width="0.25" textLength="21.3" lengthAdjust="spacingAndGlyphs">MS</text>
<text x="150.6" y="868.1" font-size="13.8" font-weight="bold" text-anchor="start" fill="#111" stroke="#111" stroke-width="0.25" textLength="53.8" lengthAdjust="spacingAndGlyphs">Patients</text>
<text x="231.6" y="630.8" font-size="25" font-weight="bold" text-anchor="start" fill="#111" stroke="#111" stroke-width="0.25" textLength="22.4" lengthAdjust="spacingAndGlyphs">E.</text>
<text transform="translate(247,838.2) rotate(-90)" x="0" y="0" font-size="15.3" font-weight="bold" fill="#111" stroke="#111" stroke-width="0.25" textLength="199.8" lengthAdjust="spacingAndGlyphs">SHP-1 (II) Transcript mRNA</text>
<line x1="285.6" y1="629.6" x2="285.6" y2="839" stroke="#333" stroke-width="1.2"/>
<line x1="285.6" y1="839" x2="429.8" y2="839" stroke="#555" stroke-width="1.4"/>
<text x="275.1" y="633.2" font-size="10.4" font-weight="bold" text-anchor="end" fill="#111" stroke="#111" stroke-width="0.25" textLength="15" lengthAdjust="spacingAndGlyphs">2.5</text>
<line x1="282.8" y1="671.45" x2="285.6" y2="671.45" stroke="#444" stroke-width="1"/>
<text x="275.1" y="675.05" font-size="10.4" font-weight="bold" text-anchor="end" fill="#111" stroke="#111" stroke-width="0.25" textLength="15" lengthAdjust="spacingAndGlyphs">2.0</text>
<line x1="282.8" y1="713.3" x2="285.6" y2="713.3" stroke="#444" stroke-width="1"/>
<text x="275.1" y="716.9" font-size="10.4" font-weight="bold" text-anchor="end" fill="#111" stroke="#111" stroke-width="0.25" textLength="15" lengthAdjust="spacingAndGlyphs">1.5</text>
<line x1="282.8" y1="755.15" x2="285.6" y2="755.15" stroke="#444" stroke-width="1"/>
<text x="275.1" y="758.75" font-size="10.4" font-weight="bold" text-anchor="end" fill="#111" stroke="#111" stroke-width="0.25" textLength="15" lengthAdjust="spacingAndGlyphs">1.0</text>
<line x1="282.8" y1="797" x2="285.6" y2="797" stroke="#444" stroke-width="1"/>
<text x="275.1" y="800.6" font-size="10.4" font-weight="bold" text-anchor="end" fill="#111" stroke="#111" stroke-width="0.25" textLength="15" lengthAdjust="spacingAndGlyphs">0.5</text>
<line x1="282.8" y1="838.85" x2="285.6" y2="838.85" stroke="#444" stroke-width="1"/>
<text x="275.1" y="842.45" font-size="10.4" font-weight="bold" text-anchor="end" fill="#111" stroke="#111" stroke-width="0.25" textLength="15" lengthAdjust="spacingAndGlyphs">0.0</text>
<line x1="317.5" y1="755.7" x2="317.5" y2="839" stroke="#555" stroke-width="1.3"/>
<line x1="306" y1="749.8" x2="312.8" y2="749.8" stroke="#333" stroke-width="0.9"/>
<line x1="309.4" y1="749.8" x2="309.4" y2="755.2" stroke="#333" stroke-width="0.9"/>
<rect x="325.4" y="701" width="16.2" height="138" fill="url(#h12)" stroke="#222" stroke-width="1.3"/>
<line x1="333.5" y1="687.5" x2="333.5" y2="701" stroke="#333" stroke-width="1.1"/>
<line x1="330.2" y1="687.5" x2="336.9" y2="687.5" stroke="#333" stroke-width="1.1"/>
<rect x="373.1" y="793.4" width="17.7" height="45.6" fill="#8c8c8c" stroke="#444" stroke-width="1"/>
<line x1="378.9" y1="789.8" x2="385.4" y2="789.8" stroke="#444" stroke-width="1.1"/>
<rect x="396.9" y="746.2" width="18" height="92.8" fill="url(#h13)" stroke="#444" stroke-width="1"/>
<line x1="403" y1="731.1" x2="409.2" y2="731.1" stroke="#333" stroke-width="1.1"/>
<text x="301.6" y="673.3" font-size="9.9" font-weight="bold" text-anchor="start" fill="#111" stroke="#111" stroke-width="0.25" textLength="31.6" lengthAdjust="spacingAndGlyphs">p=0.01</text>
<line x1="303.3" y1="683.7" x2="326.4" y2="683.7" stroke="#444" stroke-width="1.3"/>
<text x="327.9" y="648.9" font-size="9.9" font-weight="bold" text-anchor="start" fill="#111" stroke="#111" stroke-width="0.25" textLength="32.3" lengthAdjust="spacingAndGlyphs">p=0.02</text>
<text x="369.5" y="719.6" font-size="9.2" font-weight="bold" text-anchor="start" fill="#111" stroke="#111" stroke-width="0.25" textLength="37.2" lengthAdjust="spacingAndGlyphs">p=0.005</text>
<text x="302" y="853.5" font-size="13.8" font-weight="bold" text-anchor="start" fill="#111" stroke="#111" stroke-width="0.25" textLength="48.5" lengthAdjust="spacingAndGlyphs">Normal</text>
<text x="298.1" y="869.2" font-size="13.8" font-weight="bold" text-anchor="start" fill="#111" stroke="#111" stroke-width="0.25" textLength="57.8" lengthAdjust="spacingAndGlyphs">Subjects</text>
<text x="391.2" y="853.5" font-size="13.8" font-weight="bold" text-anchor="start" fill="#111" stroke="#111" stroke-width="0.25" textLength="20.1" lengthAdjust="spacingAndGlyphs">MS</text>
<text x="377.4" y="869.2" font-size="13.8" font-weight="bold" text-anchor="start" fill="#111" stroke="#111" stroke-width="0.25" textLength="53.6" lengthAdjust="spacingAndGlyphs">Patients</text>
<text x="434" y="639.4" font-size="25.5" font-weight="bold" text-anchor="start" fill="#111" stroke="#111" stroke-width="0.25" textLength="22.6" lengthAdjust="spacingAndGlyphs">F.</text>
<text transform="translate(460.2,783.7) rotate(-90)" x="0" y="0" font-size="14.8" font-weight="normal" fill="#111" stroke="#111" stroke-width="0.7" textLength="97.6" lengthAdjust="spacingAndGlyphs">GAPDH mRNA</text>
<line x1="490.4" y1="630.5" x2="493.4" y2="630.5" stroke="#444" stroke-width="1"/>
<text x="483.6" y="634.1" font-size="10.4" font-weight="bold" text-anchor="end" fill="#111" stroke="#111" stroke-width="0.25" textLength="15" lengthAdjust="spacingAndGlyphs">2.5</text>
<line x1="490.4" y1="672.3" x2="493.4" y2="672.3" stroke="#444" stroke-width="1"/>
<text x="483.6" y="675.9" font-size="10.4" font-weight="bold" text-anchor="end" fill="#111" stroke="#111" stroke-width="0.25" textLength="15" lengthAdjust="spacingAndGlyphs">2.0</text>
<line x1="490.4" y1="714.1" x2="493.4" y2="714.1" stroke="#444" stroke-width="1"/>
<text x="483.6" y="717.7" font-size="10.4" font-weight="bold" text-anchor="end" fill="#111" stroke="#111" stroke-width="0.25" textLength="15" lengthAdjust="spacingAndGlyphs">1.5</text>
<text x="483.6" y="759.5" font-size="10.4" font-weight="bold" text-anchor="end" fill="#111" stroke="#111" stroke-width="0.25" textLength="15" lengthAdjust="spacingAndGlyphs">1.0</text>
<line x1="490.4" y1="797.7" x2="493.4" y2="797.7" stroke="#444" stroke-width="1"/>
<text x="483.6" y="801.3" font-size="10.4" font-weight="bold" text-anchor="end" fill="#111" stroke="#111" stroke-width="0.25" textLength="15" lengthAdjust="spacingAndGlyphs">0.5</text>
<text x="483.6" y="843.1" font-size="10.4" font-weight="bold" text-anchor="end" fill="#111" stroke="#111" stroke-width="0.25" textLength="15" lengthAdjust="spacingAndGlyphs">0.0</text>
<line x1="490.4" y1="839.8" x2="638.4" y2="839.8" stroke="#555" stroke-width="1.4"/>
<path d="M543.7,640.4 H502.6 V654.6 H543.7" fill="none" stroke="#333" stroke-width="1.1"/>
<rect x="501.6" y="663.6" width="41" height="13.8" fill="url(#h14)"/>
<path d="M501.6,677.4 V663.6 H542.6 V677.4" fill="none" stroke="#222" stroke-width="1.2"/>
<text x="552.5" y="655.4" font-size="13.7" font-weight="bold" text-anchor="start" fill="#111" stroke="#111" stroke-width="0.25" textLength="58.6" lengthAdjust="spacingAndGlyphs">Cultured</text>
<text x="552.3" y="678.1" font-size="13.7" font-weight="bold" text-anchor="start" fill="#111" stroke="#111" stroke-width="0.25" textLength="79.4" lengthAdjust="spacingAndGlyphs">IFN-b 24hrs</text>
<line x1="509.1" y1="755.9" x2="509.1" y2="839.8" stroke="#555" stroke-width="1.3"/>
<line x1="526.3" y1="755.9" x2="526.3" y2="839.8" stroke="#555" stroke-width="1.3"/>
<rect x="533.4" y="753.1" width="17" height="86.7" fill="url(#h15)" stroke="#222" stroke-width="1.3"/>
<line x1="541.8" y1="740.8" x2="541.8" y2="753.1" stroke="#444" stroke-width="1.2"/>
<line x1="538.8" y1="740.8" x2="545.3" y2="740.8" stroke="#444" stroke-width="1.2"/>
<rect x="581.3" y="747.7" width="17.5" height="92.1" fill="#8c8c8c" stroke="#444" stroke-width="1"/>
<line x1="589.5" y1="733.2" x2="589.5" y2="747.7" stroke="#444" stroke-width="1.1"/>
<rect x="605.3" y="754.4" width="17.2" height="85.4" fill="url(#h16)" stroke="#333" stroke-width="1"/>
<line x1="611.1" y1="741.9" x2="617.6" y2="741.9" stroke="#444" stroke-width="1.1"/>
<text x="511.5" y="856.3" font-size="13.8" font-weight="bold" text-anchor="start" fill="#111" stroke="#111" stroke-width="0.25" textLength="47.7" lengthAdjust="spacingAndGlyphs">Normal</text>
<text x="508" y="872.9" font-size="13.8" font-weight="bold" text-anchor="start" fill="#111" stroke="#111" stroke-width="0.25" textLength="57.4" lengthAdjust="spacingAndGlyphs">Subjects</text>
<text x="601" y="856.3" font-size="13.8" font-weight="bold" text-anchor="start" fill="#111" stroke="#111" stroke-width="0.25" textLength="19.5" lengthAdjust="spacingAndGlyphs">MS</text>
<text x="586.8" y="872.9" font-size="13.8" font-weight="bold" text-anchor="start" fill="#111" stroke="#111" stroke-width="0.25" textLength="53.7" lengthAdjust="spacingAndGlyphs">Patients</text>
</svg>
</body></html>
